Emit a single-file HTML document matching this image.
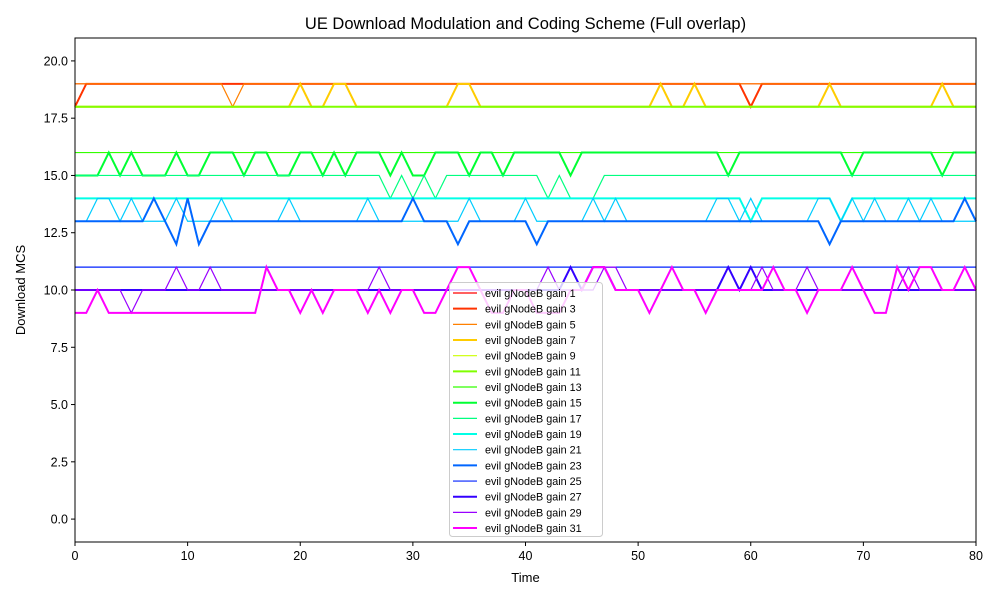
<!DOCTYPE html>
<html><head><meta charset="utf-8"><style>
body{margin:0;background:#fff;font-family:"Liberation Sans","DejaVu Sans",sans-serif}
svg text{font-family:"Liberation Sans","DejaVu Sans",sans-serif}
</style></head><body>
<svg id="chart" width="1000" height="600" xmlns="http://www.w3.org/2000/svg">
<rect width="1000" height="600" fill="#fff"/>
<text x="525.5" y="29" font-size="16.5" text-anchor="middle">UE Download Modulation and Coding Scheme (Full overlap)</text>
<text x="525.5" y="582" font-size="13" text-anchor="middle">Time</text>
<text x="25" y="290" font-size="13" text-anchor="middle" transform="rotate(-90 25 290)">Download MCS</text>
<g id="grid"></g><g id="lines"></g><g id="axes"></g><g id="legend"></g>
</svg>
<script>
const gains=[1,3,5,7,9,11,13,15,17,19,21,23,25,27,29,31];
const colors=['#ff0000','#ff3300','#ff8000','#ffcc00','#ccff00','#80ff00','#33ff00','#00ff33','#00ff80','#00ffe6','#00ccff','#0066ff','#0022ff','#3300ff','#9900ff','#ff00ff'];
const xTicks=[0,10,20,30,40,50,60,70,80];
const yTicks=[0,2.5,5,7.5,10,12.5,15,17.5,20];
const yTickLabels=['0.0','2.5','5.0','7.5','10.0','12.5','15.0','17.5','20.0'];
const g1=[19,19,19,19,19,19,19,19,19,19, 19,19,19,19,19,19,19,19,19,19, 19,19,19,19,19,19,19,19,19,19, 19,19,19,19,19,19,19,19,19,19, 19,19,19,19,19,19,19,19,19,19, 19,19,19,19,19,19,19,19,19,19, 19,19,19,19,19,19,19,19,19,19, 19,19,19,19,19,19,19,19,19,19, 19];
const g3=[18,19,19,19,19,19,19,19,19,19, 19,19,19,19,19,19,19,19,19,19, 19,19,19,19,19,19,19,19,19,19, 19,19,19,19,19,19,19,19,19,19, 19,19,19,19,19,19,19,19,19,19, 19,19,19,19,19,19,19,19,19,19, 18,19,19,19,19,19,19,19,19,19, 19,19,19,19,19,19,19,19,19,19, 19];
const g5=[19,19,19,19,19,19,19,19,19,19, 19,19,19,19,18,19,19,19,19,19, 19,19,19,19,19,19,19,19,19,19, 19,19,19,19,19,19,19,19,19,19, 19,19,19,19,19,19,19,19,19,19, 19,19,19,19,19,19,19,19,19,19, 19,19,19,19,19,19,19,19,19,19, 19,19,19,19,19,19,19,19,19,19, 19];
const g7=[18,18,18,18,18,18,18,18,18,18, 18,18,18,18,18,18,18,18,18,18, 19,18,18,19,19,18,18,18,18,18, 18,18,18,18,19,19,18,18,18,18, 18,18,18,18,18,18,18,18,18,18, 18,18,19,18,18,19,18,18,18,18, 18,18,18,18,18,18,18,19,18,18, 18,18,18,18,18,18,18,19,18,18, 18];
const g9=[18,18,18,18,18,18,18,18,18,18, 18,18,18,18,18,18,18,18,18,18, 18,18,18,18,18,18,18,18,18,18, 18,18,18,18,18,18,18,18,18,18, 18,18,18,18,18,18,18,18,18,18, 18,18,18,18,18,18,18,18,18,18, 18,18,18,18,18,18,18,18,18,18, 18,18,18,18,18,18,18,18,18,18, 18];
const g11=[18,18,18,18,18,18,18,18,18,18, 18,18,18,18,18,18,18,18,18,18, 18,18,18,18,18,18,18,18,18,18, 18,18,18,18,18,18,18,18,18,18, 18,18,18,18,18,18,18,18,18,18, 18,18,18,18,18,18,18,18,18,18, 18,18,18,18,18,18,18,18,18,18, 18,18,18,18,18,18,18,18,18,18, 18];
const g13=[16,16,16,16,16,16,16,16,16,16, 16,16,16,16,16,16,16,16,16,16, 16,16,16,16,16,16,16,16,16,16, 16,16,16,16,16,16,16,16,16,16, 16,16,16,16,16,16,16,16,16,16, 16,16,16,16,16,16,16,16,16,16, 16,16,16,16,16,16,16,16,16,16, 16,16,16,16,16,16,16,16,16,16, 16];
const g15=[15,15,15,16,15,16,15,15,15,16, 15,15,16,16,16,15,16,16,15,15, 16,16,15,16,15,16,16,16,15,16, 15,15,16,16,16,15,16,16,15,16, 16,16,16,16,15,16,16,16,16,16, 16,16,16,16,16,16,16,16,15,16, 16,16,16,16,16,16,16,16,16,15, 16,16,16,16,16,16,16,15,16,16, 16];
const g17=[15,15,15,15,15,15,15,15,15,15, 15,15,15,15,15,15,15,15,15,15, 15,15,15,15,15,15,15,15,14,15, 14,15,14,15,15,15,15,15,15,15, 15,15,14,15,14,14,14,15,15,15, 15,15,15,15,15,15,15,15,15,15, 15,15,15,15,15,15,15,15,15,15, 15,15,15,15,15,15,15,15,15,15, 15];
const g19=[14,14,14,14,14,14,14,14,14,14, 14,14,14,14,14,14,14,14,14,14, 14,14,14,14,14,14,14,14,14,14, 14,14,14,14,14,14,14,14,14,14, 14,14,14,14,14,14,14,14,14,14, 14,14,14,14,14,14,14,14,14,14, 13,14,14,14,14,14,14,14,13,14, 14,14,14,14,14,14,14,14,14,14, 14];
const g21=[13,13,14,14,13,14,13,13,13,14, 13,13,13,14,13,13,13,13,13,14, 13,13,13,13,13,13,14,13,13,13, 13,13,13,13,13,14,13,13,13,13, 14,13,13,13,13,13,14,13,14,13, 13,13,13,13,13,13,13,14,14,13, 14,13,13,13,13,13,14,14,13,14, 13,14,13,13,14,13,14,13,13,13, 13];
const g23=[13,13,13,13,13,13,13,14,13,12, 14,12,13,13,13,13,13,13,13,13, 13,13,13,13,13,13,13,13,13,13, 14,13,13,13,12,13,13,13,13,13, 13,12,13,13,13,13,13,13,13,13, 13,13,13,13,13,13,13,13,13,13, 13,13,13,13,13,13,13,12,13,13, 13,13,13,13,13,13,13,13,13,14, 13];
const g25=[11,11,11,11,11,11,11,11,11,11, 11,11,11,11,11,11,11,11,11,11, 11,11,11,11,11,11,11,11,11,11, 11,11,11,11,11,11,11,11,11,11, 11,11,11,11,11,11,11,11,11,11, 11,11,11,11,11,11,11,11,11,11, 11,11,11,11,11,11,11,11,11,11, 11,11,11,11,11,11,11,11,11,11, 11];
const g27=[10,10,10,10,10,10,10,10,10,10, 10,10,10,10,10,10,10,10,10,10, 10,10,10,10,10,10,10,10,10,10, 10,10,10,10,10,10,10,10,10,10, 10,10,10,10,11,10,11,11,10,10, 10,10,10,10,10,10,10,10,11,10, 11,10,10,10,10,10,10,10,10,10, 10,10,10,10,10,10,10,10,10,10, 10];
const g29=[10,10,10,10,10,9,10,10,10,11, 10,10,11,10,10,10,10,10,10,10, 10,10,10,10,10,10,10,11,10,10, 10,10,10,10,10,10,10,10,10,10, 10,10,11,10,10,10,10,11,11,10, 10,10,10,10,10,10,10,10,10,10, 10,11,10,10,10,11,10,10,10,10, 10,10,10,10,11,10,10,10,10,10, 10];
const g31=[9,9,10,9,9,9,9,9,9,9, 9,9,9,9,9,9,9,11,10,10, 9,10,9,10,10,10,9,10,9,10, 10,9,9,10,11,11,10,9,9,10, 10,9,9,9,10,10,11,11,10,10, 10,9,10,11,10,10,9,10,10,10, 10,10,11,10,10,9,10,10,10,11, 10,9,9,11,10,11,11,10,10,11, 10];
const series=[g1,g3,g5,g7,g9,g11,g13,g15,g17,g19,g21,g23,g25,g27,g29,g31];

const NS='http://www.w3.org/2000/svg';
const L=75,R=976,T=38,B=542,xMin=0,xMax=80,yMin=-1,yMax=21;
const xs=v=>L+(v-xMin)/(xMax-xMin)*(R-L);
const ys=v=>B-(v-yMin)/(yMax-yMin)*(B-T);
function mk(tag,attrs,parent){const e=document.createElementNS(NS,tag);for(const k in attrs)e.setAttribute(k,attrs[k]);parent.appendChild(e);return e;}
const linesG=document.getElementById('lines'),axesG=document.getElementById('axes'),legG=document.getElementById('legend');

series.forEach((s,i)=>{
  const pts=s.map((v,t)=>xs(t).toFixed(2)+','+ys(v).toFixed(2)).join(' ');
  const p=mk('polyline',{points:pts,fill:'none',stroke:colors[i],'stroke-width':i%2?2:1.2,'stroke-linejoin':'miter'},linesG);
  
  
});

const frame=mk('rect',{x:L,y:T,width:R-L,height:B-T,fill:'none',stroke:'#000','stroke-width':1},axesG);


xTicks.forEach(v=>{
  const x=xs(v);
  mk('line',{x1:x,x2:x,y1:B,y2:B+4,stroke:'#000'},axesG);
  const t=mk('text',{x:x,y:B+18,'font-size':12.5,'text-anchor':'middle'},axesG);
  t.textContent=v;
  
  
});
yTicks.forEach((v,i)=>{
  const y=ys(v);
  mk('line',{x1:L-4,x2:L,y1:y,y2:y,stroke:'#000'},axesG);
  const t=mk('text',{x:L-7,y:y+4.5,'font-size':12.5,'text-anchor':'end'},axesG);
  t.textContent=yTickLabels[i];
  
  
});

const lb=mk('rect',{x:449.5,y:282.5,width:153,height:254,rx:3,fill:'#fff','fill-opacity':0.8,stroke:'#ccc'},legG);


gains.forEach((g,i)=>{
  const y=293+i*15.67;
  const ln=mk('line',{x1:453,x2:477,y1:y,y2:y,stroke:colors[i],'stroke-width':i%2?2:1.2},legG);
  
  
  const t=mk('text',{x:485,y:y+4,'font-size':10.8,fill:'#000'},legG);
  t.textContent='evil gNodeB gain '+g;
  
  
});
</script>
</body></html>
